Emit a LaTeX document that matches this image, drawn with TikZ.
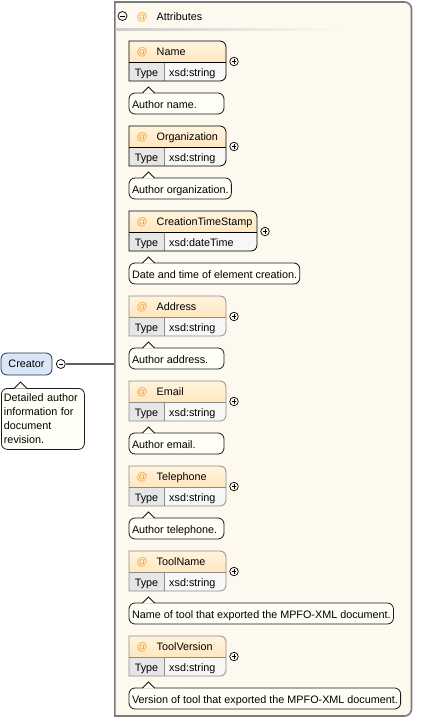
\documentclass[tikz,border=0pt]{standalone}
\usepackage{fontspec}
\setmainfont{Liberation Sans}
\usetikzlibrary{calc,positioning,backgrounds}

\definecolor{groupbg}{HTML}{FEF9EF}
\definecolor{groupline}{HTML}{7A7A7A}
\definecolor{hdtop}{HTML}{FFF4DF}
\definecolor{hdbot}{HTML}{FFE7BF}
\definecolor{typefill}{HTML}{E6E6E6}
\definecolor{valfill}{HTML}{F7F7F5}
\definecolor{optgray}{HTML}{8C8C8C}
\definecolor{atorange}{HTML}{F0A030}
\definecolor{tipfill}{HTML}{FFFFF7}
\definecolor{creatorfill}{HTML}{D9E6F8}
\definecolor{creatorline}{HTML}{243447}

\tikzset{
  base/.style={font=\fontsize{10.8}{14}\selectfont},
  txt/.style={base, inner sep=0pt, text height=9.3pt, text depth=1.2pt},
  toggle/.style={circle, draw, line width=0.7pt, minimum size=9pt, inner sep=0pt},
  minus/.style={toggle, path picture={\draw[line width=0.7pt]
    ([xshift=-2.3pt]path picture bounding box.center) -- ([xshift=2.3pt]path picture bounding box.center);}},
  plus/.style={toggle, minimum size=8.5pt, path picture={\draw[line width=0.7pt]
    ([xshift=-2.2pt]path picture bounding box.center) -- ([xshift=2.2pt]path picture bounding box.center)
    ([yshift=-2.2pt]path picture bounding box.center) -- ([yshift=2.2pt]path picture bounding box.center);}},
  tipedge/.style={draw=black!90, line width=0.8pt},
  tipshape/.style={tipedge, fill=tipfill, rounded corners=6pt},
  tipbox/.style={base, tipshape, inner xsep=2.5pt, inner ysep=2pt, align=left},
  creatorbox/.style={base, draw=creatorline, fill=creatorfill, rounded corners=6pt, line width=0.8pt,
    minimum width=51pt, minimum height=22pt, inner sep=0pt},
  conn/.style={draw=black!62, line width=1.5pt},
}

\newcommand\tipnotch[1]{%
  \fill[tipfill] ($(#1)+(13.5,0.6)$) -- ($(#1)+(19.5,-6)$) -- ($(#1)+(25.5,0.6)$) -- cycle;
  \draw[tipedge] ($(#1)+(13.5,0)$) -- ($(#1)+(19.5,-6)$) -- ($(#1)+(25.5,0)$);}

\begin{document}
\begin{tikzpicture}[x=1pt,y=-1pt]
\useasboundingbox (0,0) rectangle (430,720);

\begin{pgfonlayer}{background}
\draw[groupline, line width=1.6pt, fill=groupbg] (114.8,716) -- (114.8,2) [rounded corners=7pt] -- (411.5,2) -- (411.5,716) [sharp corners] -- cycle;
\end{pgfonlayer}
\coordinate (grpin) at (114,364);

\node[minus] (attog) at (122.5,16) {};
\node[txt, text=atorange] (attat) at (142,16) {@};
\node[txt, anchor=west] (attrs) at (156.5,16) {Attributes};
\shade[left color=black!20, middle color=black!50, right color=groupbg] (115.5,28.8) rectangle (340,30.4);

\foreach \n/\t/\w/\bc/\d [count=\i from 0] in {
  Name/xsd:string/97/black/Author name.,
  Organization/xsd:string/97/black/Author organization.,
  CreationTimeStamp/xsd:dateTime/128/black/Date and time of element creation.,
  Address/xsd:string/97/optgray/Author address.,
  Email/xsd:string/97/optgray/Author email.,
  Telephone/xsd:string/97/optgray/Author telephone.,
  ToolName/xsd:string/97/optgray/Name of tool that exported the MPFO-XML document.,
  ToolVersion/xsd:string/97/optgray/Version of tool that exported the MPFO-XML document.}
{
  \pgfmathsetmacro\yo{41+85*\i}
  \pgfmathsetmacro\xr{129+\w}
  \shade[top color=hdtop, bottom color=hdbot] (129,\yo+21) -- (129,\yo) [rounded corners=6pt] -- (\xr,\yo) [sharp corners] -- (\xr,\yo+21) -- cycle;
  \fill[valfill] (129,\yo+21) -- (\xr,\yo+21) [rounded corners=6pt] -- (\xr,\yo+40) [sharp corners] -- (129,\yo+40) -- cycle;
  \fill[typefill] (129,\yo+21) rectangle (164,\yo+40);
  \draw[optgray, line width=0.7pt] (164,\yo+21) -- (164,\yo+40);
  \draw[\bc, line width=0.8pt] (129,\yo+40) -- (129,\yo) [rounded corners=6pt] -- (\xr,\yo) -- (\xr,\yo+40) [sharp corners] -- cycle;
  \draw[\bc, line width=0.8pt] (129,\yo+21) -- (\xr,\yo+21);
  \node[txt, text=atorange] (at\i) at (142,\yo+10.5) {@};
  \node[txt, anchor=west] (an\i) at (156.5,\yo+10.5) {\n};
  \node[txt] (ty\i) at (146.5,\yo+31) {Type};
  \node[txt, anchor=west] (va\i) at (169,\yo+31) {\t};
  \node[plus] (pl\i) at (\xr+8,\yo+20.5) {};
  \node[txt, anchor=west] (tt\i) at (131.8,\yo+63) {\d};
  \coordinate (tnw\i) at (129,\yo+52);
  \begin{pgfonlayer}{background}
    \draw[tipshape] let \p1=(tt\i.east) in (tnw\i) rectangle ({max(\x1+2.5,\xr-2)},\yo+73);
    \tipnotch{tnw\i}
  \end{pgfonlayer}
}

\node[creatorbox] (creator) at (26.5,364) {Creator};
\node[minus] (crtog) at (60.8,364) {};
\draw[conn] (crtog) -- (grpin);
\node[tipbox, text width=78pt, minimum height=61pt, anchor=north west] (crtip) at (1,388)
  {Detailed author\\information for\\document\\revision.};
\tipnotch{crtip.north west}
\end{tikzpicture}
\end{document}
